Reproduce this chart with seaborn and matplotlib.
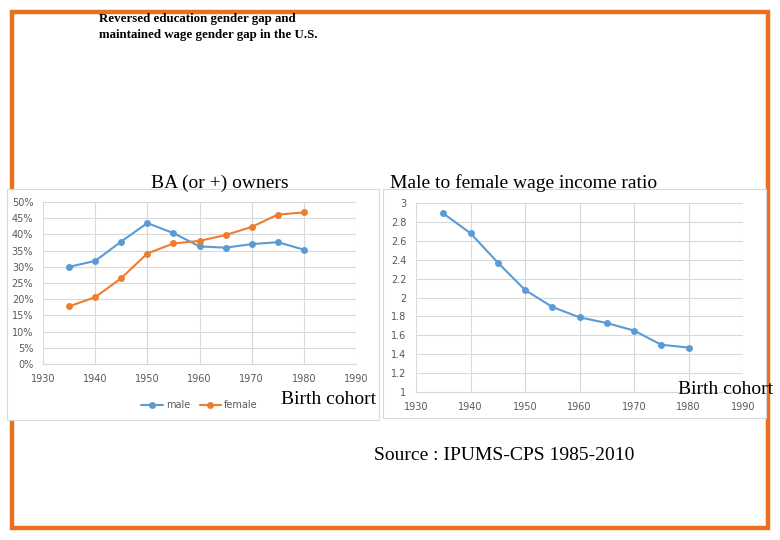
import matplotlib
matplotlib.use("Agg")
import matplotlib.pyplot as plt
import seaborn as sns
import pandas as pd
from matplotlib.patches import Rectangle
from matplotlib.ticker import FuncFormatter

years = [1935, 1940, 1945, 1950, 1955, 1960, 1965, 1970, 1975, 1980]
male_ba = [30.0, 31.8, 37.8, 43.5, 40.4, 36.3, 35.9, 37.0, 37.6, 35.3]
female_ba = [17.8, 20.6, 26.5, 34.1, 37.2, 38.0, 39.8, 42.3, 46.1, 46.8]
wage_ratio = [2.89, 2.68, 2.37, 2.08, 1.90, 1.79, 1.73, 1.65, 1.50, 1.47]
x_ticks = [1930, 1940, 1950, 1960, 1970, 1980, 1990]
pct_ticks = [0, 5, 10, 15, 20, 25, 30, 35, 40, 45, 50]
ratio_ticks = [1, 1.2, 1.4, 1.6, 1.8, 2, 2.2, 2.4, 2.6, 2.8, 3]

BLUE = "#5B9BD5"
ORANGE = "#ED7D31"
GRID = "#D9D9D9"
TICK = "#595959"

sns.set_style("white")
plt.rcParams["font.family"] = ["DejaVu Sans"]

W, H = 780, 540
fig = plt.figure(figsize=(W / 100, H / 100), dpi=100)

def rect(x0, y0, x1, y1):
    return [x0 / W, (H - y1) / H, (x1 - x0) / W, (y1 - y0) / H]

# orange frame
fig.patches.append(Rectangle((12 / W, (H - 528) / H), 756 / W, 516 / H,
                             transform=fig.transFigure, fill=False,
                             edgecolor="#E8701E", linewidth=3.2, zorder=-2))
# chart boxes
for (x0, y0, x1, y1) in [(7, 189, 379, 420), (383, 189, 766, 418)]:
    fig.patches.append(Rectangle((x0 / W, (H - y1) / H), (x1 - x0) / W, (y1 - y0) / H,
                                 transform=fig.transFigure, fill=True, facecolor="white",
                                 edgecolor=GRID, linewidth=0.8, zorder=-1))

df_ba = pd.DataFrame({
    "year": years * 2,
    "share": male_ba + female_ba,
    "sex": ["male"] * len(years) + ["female"] * len(years),
})
df_ratio = pd.DataFrame({"year": years, "ratio": wage_ratio})

def style_axes(ax):
    ax.set_facecolor("none")
    ax.set_xlim(1930, 1990)
    ax.set_xticks(x_ticks)
    ax.grid(True, color=GRID, linewidth=0.8)
    ax.set_axisbelow(True)
    for s in ["top", "right", "left"]:
        ax.spines[s].set_visible(False)
    ax.spines["bottom"].set_color(GRID)
    ax.spines["bottom"].set_linewidth(0.8)
    ax.tick_params(axis="both", length=0, labelsize=7, labelcolor=TICK, pad=7)
    ax.set_xlabel("")
    ax.set_ylabel("")

# left chart
ax1 = fig.add_axes(rect(43, 202, 356, 364))
sns.lineplot(data=df_ba, x="year", y="share", hue="sex",
             palette={"male": BLUE, "female": ORANGE}, marker="o",
             markersize=5, markeredgewidth=0, linewidth=1.5, ax=ax1, legend=True)
ax1.set_ylim(0, 50)
ax1.set_yticks(pct_ticks)
ax1.yaxis.set_major_formatter(FuncFormatter(lambda v, p: f"{v:.0f}%"))
style_axes(ax1)
ax1.legend(loc="upper center", bbox_to_anchor=(0.5, -0.17), ncol=2, frameon=False,
           fontsize=7, labelcolor=TICK, handlelength=2.2, columnspacing=1.0,
           handletextpad=0.3)

# right chart
ax2 = fig.add_axes(rect(416, 203, 743, 392))
sns.lineplot(data=df_ratio, x="year", y="ratio", color=BLUE, marker="o",
             markersize=5, markeredgewidth=0, linewidth=1.5, ax=ax2)
ax2.set_ylim(1, 3)
ax2.set_yticks(ratio_ticks)
ax2.yaxis.set_major_formatter(FuncFormatter(lambda v, p: f"{v:g}"))
style_axes(ax2)

serif = ["Liberation Serif", "DejaVu Serif"]
fig.text(99 / W, 1 - 13 / H,
         "Reversed education gender gap and\nmaintained wage gender gap in the U.S.",
         ha="left", va="top", fontsize=9.3, fontweight="bold", family=serif,
         linespacing=1.4, color="black")
fig.text(220 / W, 1 - 183 / H, "BA (or +) owners", ha="center", va="center",
         fontsize=14, family=serif, color="black")
fig.text(524 / W, 1 - 183 / H, "Male to female wage income ratio", ha="center",
         va="center", fontsize=14, family=serif, color="black")
fig.text(329 / W, 1 - 400 / H, "Birth cohort", ha="center", va="center",
         fontsize=14, family=serif, color="black")
fig.text(726 / W, 1 - 390 / H, "Birth cohort", ha="center", va="center",
         fontsize=14, family=serif, color="black")
fig.text(504 / W, 1 - 455 / H, "Source : IPUMS-CPS 1985-2010", ha="center",
         va="center", fontsize=14, family=serif, color="black")

fig.savefig("out.png", dpi=100)
